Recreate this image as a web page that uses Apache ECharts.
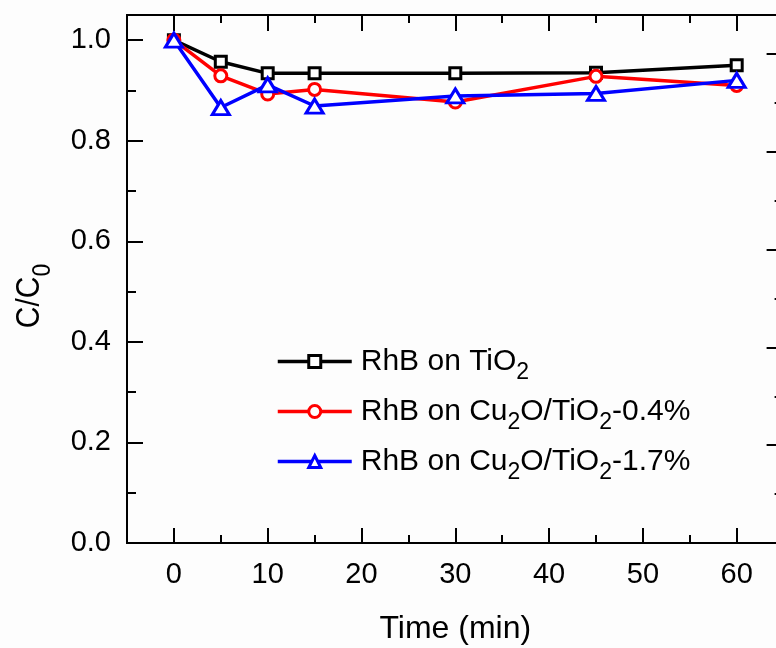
<!DOCTYPE html>
<html>
<head>
<meta charset="utf-8">
<script src="https://cdn.jsdelivr.net/npm/echarts@6/dist/echarts.min.js"></script>
<style>
  html, body { margin: 0; padding: 0; background: #fdfdfd; }
  #chart { width: 776px; height: 648px; }
</style>
</head>
<body>
<div id="chart"></div>
<script>
// Adsorption-in-dark data: relative concentration C/C0 versus time
const timeMin = [0, 5, 10, 15, 30, 45, 60];
const rhbOnTiO2 = [1.0, 0.957, 0.934, 0.934, 0.934, 0.935, 0.950];
const rhbOnCu2O04 = [1.0, 0.929, 0.893, 0.902, 0.877, 0.928, 0.910];
const rhbOnCu2O17 = [1.0, 0.866, 0.911, 0.869, 0.889, 0.894, 0.920];

const seriesNames = ['RhB on TiO2', 'RhB on Cu2O/TiO2-0.4%', 'RhB on Cu2O/TiO2-1.7%'];
const seriesColors = ['#000000', '#ff0000', '#0000ff'];

// Tick positions for the time axis
const xMajorTicks = [0, 10, 20, 30, 40, 50, 60];
const xMinorTicks = [5, 15, 25, 35, 45, 55];

const FONT = "'Liberation Sans', Arial, sans-serif";

// Turn chemical formulas into rich text with subscript digits
function formulaRich(name) {
  const marked = name.replace(/(Cu|TiO)2/g, '$1\u0001');
  return '{n|' + marked.split('\u0001').join('}{s|2}{n|') + '}';
}

function pairs(values) {
  return timeMin.map((t, i) => [t, values[i]]);
}

const chart = echarts.init(document.getElementById('chart'), null, { renderer: 'canvas' });

const axisLine = { show: true, onZero: false, lineStyle: { color: '#000', width: 2 } };

function tickAxis(position, values, length) {
  return {
    type: 'value', position: position, min: -5, max: 65, interval: 5,
    axisLine: axisLine,
    axisTick: { show: true, inside: true, length: length, customValues: values,
                lineStyle: { color: '#000', width: 2 } },
    axisLabel: { show: false },
    splitLine: { show: false }
  };
}

const symbols = ['rect', 'circle', 'triangle'];
const symbolSizes = [11, 12, [17, 14]];
const seriesData = [rhbOnTiO2, rhbOnCu2O04, rhbOnCu2O17];

const option = {
  backgroundColor: '#fdfdfd',
  animation: false,
  textStyle: { fontFamily: FONT },
  grid: { left: 127, top: 15, width: 656.6, height: 528,
          containLabel: false, outerBoundsMode: 'none' },
  xAxis: [
    {
      type: 'value', position: 'bottom', min: -5, max: 65, interval: 5,
      name: 'Time (min)', nameLocation: 'middle', nameGap: 70,
      nameTextStyle: { fontSize: 32, color: '#000', fontFamily: FONT },
      axisLine: axisLine,
      axisTick: { show: true, inside: true, length: 15, customValues: xMajorTicks,
                  lineStyle: { color: '#000', width: 2 } },
      axisLabel: { show: true, customValues: xMajorTicks, margin: 17,
                   fontSize: 29, color: '#000', fontFamily: FONT },
      splitLine: { show: false }
    },
    tickAxis('top', xMajorTicks, 16),
    tickAxis('top', xMinorTicks, 8),
    tickAxis('bottom', xMinorTicks, 8)
  ],
  yAxis: [
    {
      type: 'value', position: 'left', min: 0, max: 1.05, interval: 0.2,
      axisLine: axisLine,
      axisTick: { show: true, inside: true, length: 16, lineStyle: { color: '#000', width: 2 } },
      minorTick: { show: true, splitNumber: 2, length: 9, lineStyle: { color: '#000', width: 2 } },
      axisLabel: { margin: 16, fontSize: 29, color: '#000', fontFamily: FONT,
                   formatter: v => v.toFixed(1),
                   showMaxLabel: false },
      splitLine: { show: false }, minorSplitLine: { show: false }
    },
    {
      type: 'value', position: 'right', min: 0, max: 5.4, interval: 1,
      axisLine: axisLine,
      axisTick: { show: true, inside: true, length: 17, lineStyle: { color: '#000', width: 2 } },
      minorTick: { show: true, splitNumber: 2, length: 9, lineStyle: { color: '#000', width: 2 } },
      axisLabel: { show: false },
      splitLine: { show: false }, minorSplitLine: { show: false }
    }
  ],
  legend: {
    left: 276, top: 339, orient: 'vertical', padding: 0,
    itemWidth: 74, itemHeight: 15, itemGap: 5,
    data: seriesNames,
    lineStyle: { width: 3.5 },
    itemStyle: { borderWidth: 3 },
    formatter: name => formulaRich(name),
    textStyle: {
      fontSize: 30, color: '#000', fontFamily: FONT, padding: [0, 0, 0, 4],
      rich: {
        n: { fontSize: 30, lineHeight: 30, color: '#000', fontFamily: FONT },
        s: { fontSize: 23, lineHeight: 30, padding: [22, 0, 0, 0], color: '#000', fontFamily: FONT }
      }
    }
  },
  graphic: [
    {
      type: 'text', x: 30, y: 296, rotation: Math.PI / 2, scaleY: 1.12,
      style: {
        text: '{n|C/C}{s|0}', align: 'center', verticalAlign: 'middle',
        fill: '#000', fontFamily: FONT, fontSize: 30,
        rich: {
          n: { fontSize: 30, lineHeight: 34, fill: '#000', fontFamily: FONT },
          s: { fontSize: 23, lineHeight: 34, padding: [23, 0, 0, 0], fill: '#000', fontFamily: FONT }
        }
      }
    }
  ],
  series: seriesNames.map((name, i) => ({
    name: name,
    type: 'line',
    xAxisIndex: 0, yAxisIndex: 0,
    data: pairs(seriesData[i]),
    symbol: symbols[i],
    symbolSize: symbolSizes[i],
    showAllSymbol: true,
    lineStyle: { color: seriesColors[i], width: 3.5 },
    itemStyle: { color: '#ffffff', borderColor: seriesColors[i], borderWidth: 3 },
    emphasis: { disabled: true },
    z: 2 + i
  }))
};

chart.setOption(option);
</script>
</body>
</html>
